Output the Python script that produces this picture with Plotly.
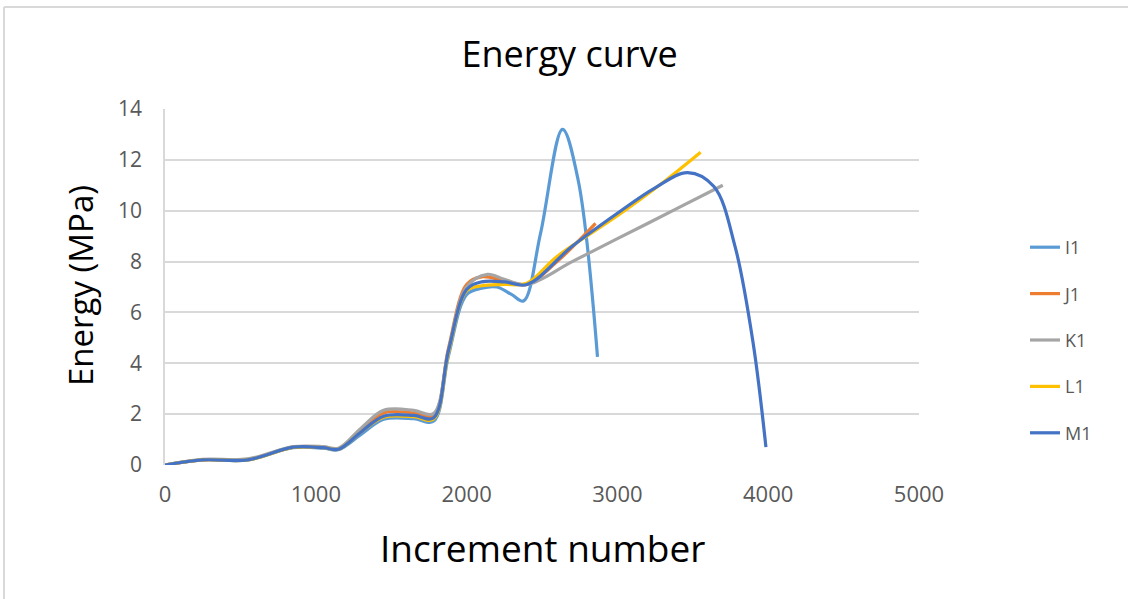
import plotly.graph_objects as go

# ---- data ----
series_names = ["I1", "J1", "K1", "L1", "M1"]
series_colors = ["#5B9BD5", "#ED7D31", "#A5A5A5", "#FFC000", "#4472C4"]

i1_x = [0, 250, 550, 850, 1050, 1150, 1300, 1450, 1650, 1780, 1880, 2000, 2100, 2200, 2300, 2377, 2490, 2636, 2740, 2868]
i1_y = [0, 0.2, 0.2, 0.68, 0.66, 0.6, 1.2, 1.8, 1.82, 1.72, 4.3, 6.7, 6.95, 7.0, 6.7, 6.45, 9.1, 13.2, 11.2, 4.25]

j1_x = [0, 250, 550, 850, 1050, 1150, 1300, 1450, 1650, 1780, 1880, 2000, 2100, 2250, 2400, 2600, 2855]
j1_y = [0, 0.2, 0.22, 0.7, 0.7, 0.63, 1.35, 2.05, 2.05, 1.95, 4.6, 7.1, 7.4, 7.25, 7.1, 8.0, 9.5]

k1_x = [0, 250, 550, 850, 1050, 1150, 1300, 1450, 1650, 1780, 1880, 2000, 2138, 2250, 2400, 2700, 3000, 3400, 3699]
k1_y = [0, 0.22, 0.24, 0.72, 0.72, 0.66, 1.45, 2.15, 2.15, 2.02, 4.5, 7.0, 7.5, 7.3, 7.1, 8.0, 8.9, 10.1, 11.0]

l1_x = [0, 250, 550, 850, 1050, 1150, 1300, 1450, 1650, 1780, 1880, 2000, 2100, 2250, 2400, 2600, 3000, 3300, 3552]
l1_y = [0, 0.2, 0.2, 0.69, 0.68, 0.62, 1.3, 1.88, 1.9, 1.8, 4.4, 6.85, 7.05, 7.1, 7.15, 8.2, 9.8, 11.1, 12.3]

m1_x = [0, 250, 550, 850, 1050, 1150, 1300, 1450, 1650, 1780, 1880, 2000, 2100, 2250, 2400, 2700, 3000, 3250, 3466, 3640, 3780, 3900, 3985]
m1_y = [0, 0.2, 0.2, 0.7, 0.68, 0.62, 1.3, 1.92, 1.95, 1.85, 4.5, 6.9, 7.2, 7.2, 7.1, 8.6, 9.9, 10.9, 11.5, 10.95, 8.6, 4.8, 0.7]

series_x = [i1_x, j1_x, k1_x, l1_x, m1_x]
series_y = [i1_y, j1_y, k1_y, l1_y, m1_y]

x_ticks = [0, 1000, 2000, 3000, 4000, 5000]
y_ticks = [0, 2, 4, 6, 8, 10, 12, 14]

FONT = "Open Sans"
TICK_COLOR = "#595959"
GRID = "#d9d9d9"

fig = go.Figure()
for name, color, xs, ys in zip(series_names, series_colors, series_x, series_y):
    fig.add_trace(go.Scatter(
        x=xs, y=ys, name=name, mode="lines",
        line=dict(color=color, width=3.2, shape="spline", smoothing=1.0),
        legendgroup=name,
    ))

fig.update_layout(
    width=1128, height=599,
    margin=dict(l=165, r=209, t=109, b=134),
    paper_bgcolor="white", plot_bgcolor="white",
    font=dict(family=FONT, color=TICK_COLOR),
    title=dict(text="Energy curve", x=0.505, xref="container", y=1 - 54 / 599, yref="container",
               xanchor="center", yanchor="middle",
               font=dict(family=FONT, size=36, color="#000000")),
    xaxis=dict(range=[0, 5000], tickvals=x_ticks, ticktext=[str(v) for v in x_ticks],
               showgrid=False, zeroline=False, showline=False,
               tickfont=dict(size=22, color=TICK_COLOR), ticks="", ticklabelstandoff=14),
    yaxis=dict(range=[0, 14], tickvals=y_ticks, ticktext=[str(v) for v in y_ticks],
               showgrid=True, gridcolor=GRID, gridwidth=1.6, zeroline=False,
               showline=True, linecolor=GRID, linewidth=1.6,
               tickfont=dict(size=21, color=TICK_COLOR), ticks="", ticklabelstandoff=17),
    legend=dict(x=(1025 - 165) / 754, xanchor="left", y=(465 - 229) / 356, yanchor="top",
                font=dict(family=FONT, size=18, color=TICK_COLOR),
                tracegroupgap=20, bgcolor="rgba(0,0,0,0)"),
    showlegend=True,
    annotations=[
        dict(text="Energy (MPa)", xref="paper", yref="paper",
             x=(80 - 165) / 754, y=(465 - 286) / 356, textangle=-90,
             showarrow=False, xanchor="center", yanchor="middle",
             font=dict(family=FONT, size=33, color="#000000")),
        dict(text="Increment number", xref="paper", yref="paper",
             x=(542 - 165) / 754, y=(465 - 547) / 356,
             showarrow=False, xanchor="center", yanchor="middle",
             font=dict(family=FONT, size=37, color="#000000")),
    ],
    shapes=[
        dict(type="line", xref="paper", yref="paper", x0=(4 - 165) / 754, x1=2,
             y0=(465 - 7) / 356, y1=(465 - 7) / 356, line=dict(color=GRID, width=2), layer="below"),
        dict(type="line", xref="paper", yref="paper", x0=(4 - 165) / 754, x1=(4 - 165) / 754,
             y0=(465 - 7) / 356, y1=-2, line=dict(color=GRID, width=2), layer="below"),
    ],
)

fig.write_html("out.html")
